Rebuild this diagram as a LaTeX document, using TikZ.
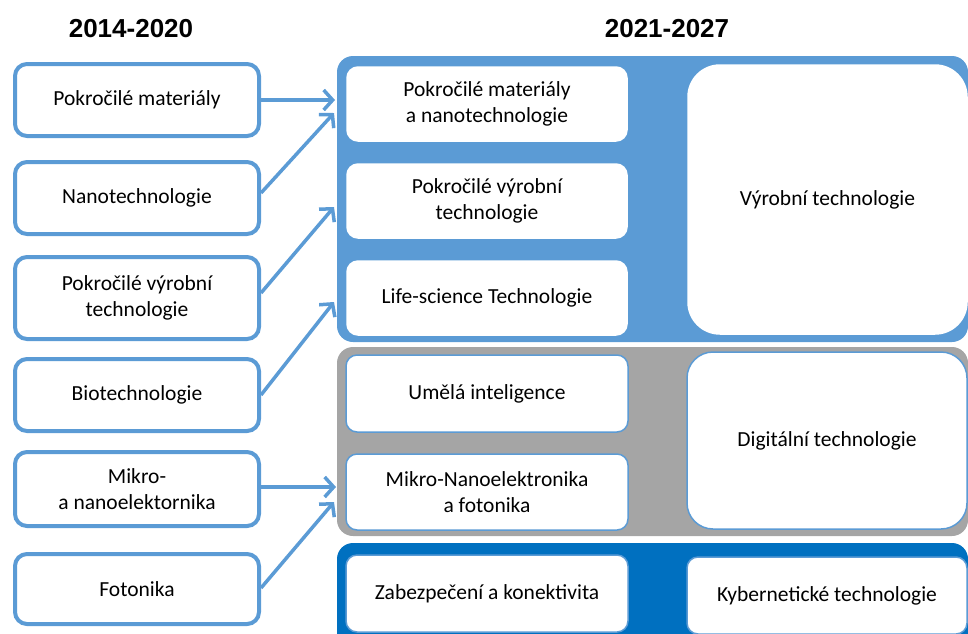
\documentclass[tikz,border=0pt]{standalone}
\usepackage{fontspec}
\setmainfont{Carlito}
\newfontfamily\titlefont{Liberation Sans}
\usetikzlibrary{arrows.meta}
\definecolor{lblue}{HTML}{5B9BD5}
\definecolor{pgray}{HTML}{A5A5A5}
\definecolor{dblue}{HTML}{0070C0}
\tikzset{
  oldbox/.style={draw=lblue, line width=4pt, rounded corners=12pt, fill=white,
    minimum width=244pt, align=center, inner sep=0pt,
    font=\fontsize{21.5}{26}\selectfont},
  innerbox/.style={draw=lblue, line width=1.5pt, rounded corners=11pt, fill=white,
    align=center, inner sep=0pt, font=\fontsize{21.5}{26}\selectfont},
  panel/.style={rounded corners=16pt},
  conn/.style={draw=lblue, line width=3.5pt, -{Straight Barb[length=9pt,width=20pt,line width=3.5pt]}},
  yeartitle/.style={font=\titlefont\bfseries\fontsize{26}{30}\selectfont},
}
\begin{document}
\begin{tikzpicture}[x=1pt,y=-1pt]
\useasboundingbox (0,0) rectangle (968,633);
\clip (0,0) rectangle (968,633);
% titles
\node[yeartitle] (t1) at (131,29) {2014-2020};
\node[yeartitle] (t2) at (667,29) {2021-2027};
% panels
\fill[lblue, panel] (337,56) rectangle (968,342);
\fill[pgray, panel] (337,347) rectangle (968,536);
\fill[dblue, panel] (337,543) rectangle (968,680);
% left boxes
\node[oldbox, minimum height=72pt] (l1) at (137,100) {Pokročilé materiály};
\node[oldbox, minimum height=72pt] (l2) at (137,198) {Nanotechnologie};
\node[oldbox, minimum height=82pt] (l3) at (137,298) {Pokročilé výrobní\\technologie};
\node[oldbox, minimum height=72pt] (l4) at (137,395) {Biotechnologie};
\node[oldbox, minimum height=74pt] (l5) at (137,489) {Mikro-\\a nanoelektornika};
\node[oldbox, minimum height=70pt] (l6) at (137,589) {Fotonika};
% inner boxes
\node[innerbox, draw=white, minimum width=280pt, minimum height=74pt] (n1) at (487,104) {Pokročilé materiály\\a nanotechnologie};
\node[innerbox, draw=white, minimum width=280pt, minimum height=74pt] (n2) at (487,201) {Pokročilé výrobní\\technologie};
\node[innerbox, draw=white, minimum width=280pt, minimum height=74pt] (n3) at (487,298) {Life-science Technologie};
\node[innerbox, draw=white, rounded corners=32pt, minimum width=279pt, minimum height=269pt] (v) at (827.5,199.5) {Výrobní technologie};
\node[innerbox, minimum width=282pt, minimum height=77pt] (n4) at (487,393.5) {Umělá inteligence};
\node[innerbox, minimum width=282pt, minimum height=76pt] (n5) at (487,492) {Mikro-Nanoelektronika\\a fotonika};
\node[innerbox, rounded corners=26pt, minimum width=280pt, minimum height=177pt] (d) at (827,440.5) {Digitální technologie};
\node[innerbox, minimum width=282pt, minimum height=77pt] (n6) at (487,593.5) {Zabezpečení a konektivita};
\node[innerbox, minimum width=280pt, minimum height=77pt] (k) at (827,595.5) {Kybernetické technologie};
% arrow targets
\coordinate (e1) at (335,100);
\coordinate (e2) at (334,113);
\coordinate (e3) at (334,207);
\coordinate (e4) at (334,302);
\coordinate (e5) at (336,487);
\coordinate (e6) at (334,502);
\draw[conn] (l1.east) -- (e1);
\draw[conn] ([yshift=5pt]l2.east) -- (e2);
\draw[conn] ([yshift=5pt]l3.east) -- (e3);
\draw[conn] (l4.east) -- (e4);
\draw[conn] ([yshift=2pt]l5.east) -- (e5);
\draw[conn] ([yshift=1pt]l6.east) -- (e6);
\end{tikzpicture}
\end{document}
